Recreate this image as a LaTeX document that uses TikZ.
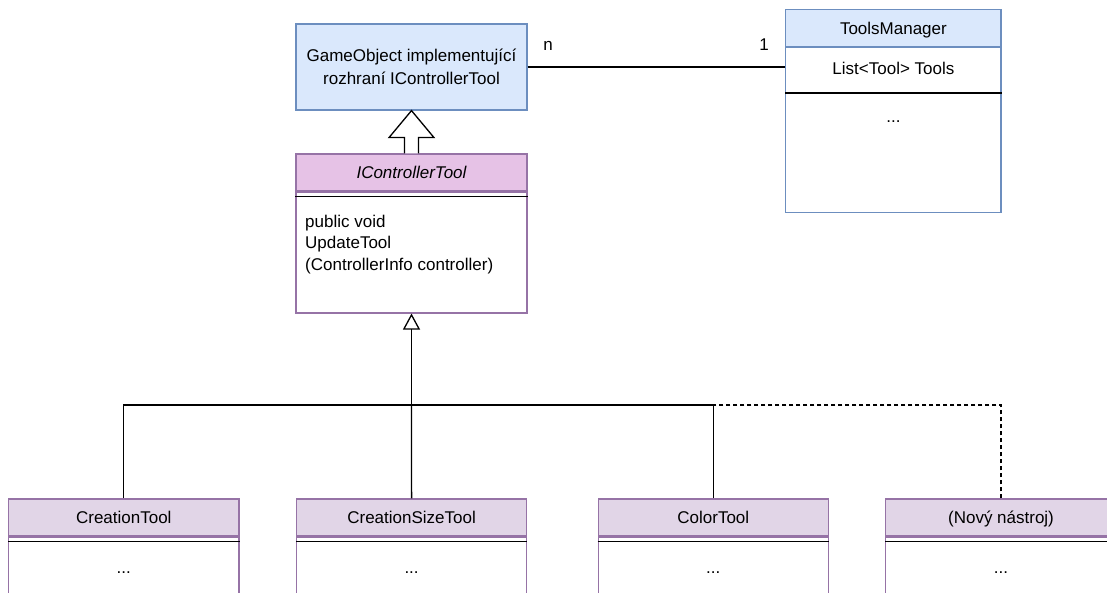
\documentclass[tikz,border=0pt]{standalone}
\usepackage{fontspec}
\setmainfont{Liberation Sans}
\usetikzlibrary{arrows.meta,calc}
\definecolor{bluefill}{HTML}{DAE8FC}
\definecolor{bluedraw}{HTML}{6C8EBF}
\definecolor{purpfill}{HTML}{E1D5E7}
\definecolor{pinkfill}{HTML}{E6C2E6}
\definecolor{purpdraw}{HTML}{9673A6}
\tikzset{
  lbl/.style={font=\fontsize{17}{22}\selectfont, inner sep=0pt},
  bluebox/.style={draw=bluedraw, fill=bluefill, line width=1.2pt, minimum width=215.3pt, inner sep=0pt},
  hdrbox/.style={draw=purpdraw, fill=purpfill, line width=1.2pt, minimum width=230.4pt, minimum height=37pt, inner sep=0pt, text height=12.2pt, text depth=0pt, font=\fontsize{17}{22}\selectfont},
  bodybox/.style={draw=purpdraw, fill=white, line width=1.2pt, minimum width=230.4pt, inner sep=0pt},
  sep/.style={black, line width=1.3pt},
  conn/.style={black, line width=1.3pt},
  inh/.style={conn, -{Triangle[open, width=17pt, length=16pt, line width=1.3pt]}},
}
\begin{document}
\begin{tikzpicture}[x=1pt,y=-1pt]
\useasboundingbox (0,0) rectangle (1107,593);
\clip (0,0) rectangle (1107,593);

% GameObject box
\node[draw=bluedraw, fill=bluefill, line width=1.2pt, minimum width=231pt, minimum height=86pt, inner sep=0pt, align=center, font=\fontsize{17}{22.7}\selectfont] (gobj) at (411.5,67) {GameObject implementující\\rozhraní IControllerTool};

% ToolsManager
\node[bluebox, minimum height=37.4pt, text height=12.2pt, text depth=0pt, font=\fontsize{17}{22}\selectfont] (tmhead) at (893.4,28) {ToolsManager};
\node[draw=bluedraw, fill=white, line width=1.2pt, minimum width=215.3pt, minimum height=164.3pt, inner sep=0pt, anchor=north] (tmbody) at (tmhead.south) {};
\node[lbl, text height=12.2pt, text depth=0pt] (tmattr) at (893.4,68.5) {List<Tool> Tools};
\draw[sep] (tmbody.west |- 0,93) coordinate (tmsepl) -- (tmsepl -| tmbody.east);
\node[lbl, anchor=base] (tmdots) at (893.4,122.5) {...};

% association
\draw[conn] (gobj.east) -- (gobj.east -| tmbody.west);
\node[lbl, anchor=base] (mn) at (548,51) {n};
\node[lbl, anchor=base] (m1) at (764,51) {1};

% IControllerTool
\node[hdrbox, fill=pinkfill, minimum width=231pt, minimum height=36.7pt, font=\fontsize{17}{22}\selectfont\itshape] (ict) at (411.5,172.4) {IControllerTool};
\node[bodybox, minimum width=231pt, minimum height=121pt, anchor=north] (ictbody) at (ict.south) {};
\draw[sep] (ictbody.west |- 0,196.7) coordinate (ictsepl) -- (ictsepl -| ictbody.east);
\node[lbl, anchor=west, align=left, font=\fontsize{17}{21.7}\selectfont] (ictops) at (305,244.5) {public void\\UpdateTool\\(ControllerInfo controller)};

% block arrow (realization to GameObject)
\draw[black, line width=1.3pt, fill=white]
  ($(ict.north)+(-7,0)$) -- ($(gobj.south)+(-7,27)$) -- ($(gobj.south)+(-22.5,27)$)
  -- (gobj.south) -- ($(gobj.south)+(22.5,27)$) -- ($(gobj.south)+(7,27)$)
  -- ($(ict.north)+(7,0)$);

% bottom classes
\node[hdrbox] (ct) at (123.8,517.5) {CreationTool};
\node[hdrbox] (cst) at (411.6,517.5) {CreationSizeTool};
\node[hdrbox] (col) at (713.3,517.5) {ColorTool};
\node[hdrbox] (nn) at (1001,517.5) {(Nový nástroj)};
\foreach \n in {ct,cst,col,nn}{
  \node[bodybox, minimum height=90pt, anchor=north] (\n body) at (\n.south) {};
  \draw[sep] (\n body.west |- 0,541.7) -- (\n body.east |- 0,541.7);
  \node[lbl, anchor=base] (\n dots) at ($(\n.south |- 0,573.5)$) {...};
}

% inheritance
\coordinate (jn) at (411.5,405);
\draw[conn, dashed, dash pattern=on 4pt off 3pt] (nn.north) |- (jn);
\draw[conn] (ct.north) |- (jn);
\draw[conn] (col.north) |- (jn);
\draw[conn] (cst.north) -- (jn);
\draw[inh] (jn) -- (ictbody.south);
\end{tikzpicture}
\end{document}
